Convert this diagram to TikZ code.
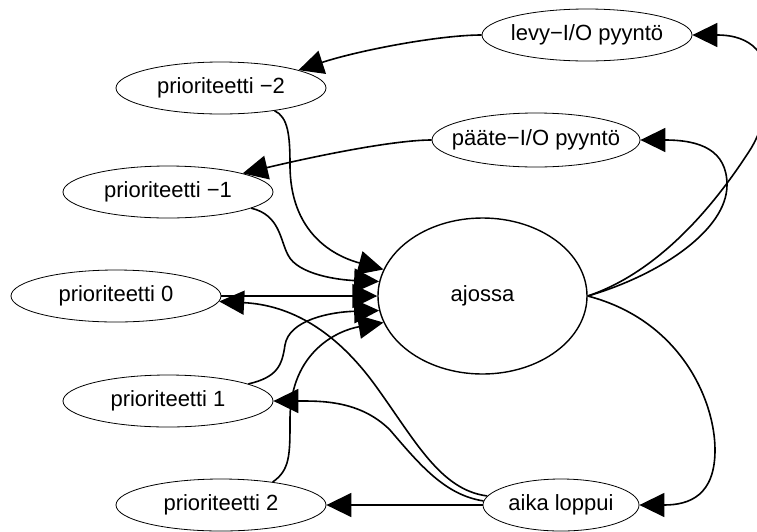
\documentclass[tikz,border=0pt]{standalone}
\usepackage{fontspec}
\setmainfont{Liberation Sans}
\usetikzlibrary{arrows.meta,shapes.geometric}

% ellipse size is given explicitly; the label is centred in a zero-width box
\newcommand{\lbl}[1]{\makebox[0pt]{#1}}

\tikzset{
  state/.style={ellipse, draw, line width=0.8pt, inner sep=0pt,
    minimum width=210pt, minimum height=52pt, font=\fontsize{22}{26}\selectfont},
  run/.style={state, line width=1.4pt, minimum width=209pt, minimum height=156pt},
  edge/.style={line width=1.6pt, -{Triangle[length=25pt,width=24pt]}},
}

\begin{document}
\begin{tikzpicture}[x=1pt, y=-1pt]
\useasboundingbox (0,0) rectangle (757,531);

% states
\node[state] (levy)   at (587,35)  {\lbl{levy−I/O pyyntö}};
\node[state, minimum width=208pt, minimum height=54pt] (paate) at (536,140) {\lbl{pääte−I/O pyyntö}};
\node[state] (pm2)    at (221,88)  {\lbl{prioriteetti −2}};
\node[state] (pm1)    at (168,192) {\lbl{prioriteetti −1}};
\node[state] (p0)     at (116,296) {\lbl{prioriteetti 0}};
\node[state] (p1)     at (168,401) {\lbl{prioriteetti 1}};
\node[state] (p2)     at (221,505) {\lbl{prioriteetti 2}};
\node[state, minimum width=156pt] (aika) at (561,505) {\lbl{aika loppui}};
\node[run] (ajossa)   at (482.5,296) {\lbl{ajossa}};

% from the running state outwards
\draw[edge] (ajossa.east) .. controls (650,275) and (705,220) .. (750,150)
            .. controls (770,119) and (790,35) .. (levy.east);
\draw[edge] (ajossa.east) .. controls (660,275) and (727,230) .. (727,185)
            .. controls (727,150) and (700,140) .. (paate.east);
\draw[edge] (ajossa.east) .. controls (680,320) and (715,400) .. (715,450)
            .. controls (715,495) and (690,505) .. (aika.east);

% I/O requests lower the priority
\draw[edge] (levy.west) .. controls (440,35) and (360,50) .. (pm2.13);
\draw[edge] (paate.west) .. controls (395,140) and (320,155) .. (pm1.14);

% priorities back to running
\draw[edge] (pm2.-23) .. controls (288,117) and (290,135) .. (290,165)
            .. controls (290,230) and (330,255) .. (ajossa.165);
\draw[edge] (pm1.-11) .. controls (280,215) and (280,240) .. (288,255)
            .. controls (298,275) and (340,280) .. (ajossa.172);
\draw[edge] (p0.east) -- (ajossa.180);
\draw[edge] (p1.12) .. controls (278,377) and (282,365) .. (285,345)
            .. controls (289,320) and (330,312) .. (ajossa.188);
\draw[edge] (p2.24) .. controls (290,470) and (290,455) .. (290,420)
            .. controls (290,350) and (340,330) .. (ajossa.195);

% time slice used up
\draw[edge] (aika.173) .. controls (440,490) and (415,440) .. (375,385)
            .. controls (335,330) and (290,305) .. (p0.-3);
\draw[edge] (aika.177) .. controls (445,495) and (420,465) .. (390,430)
            .. controls (360,400) and (320,401) .. (p1.east);
\draw[edge] (aika.west) -- (p2.east);
\end{tikzpicture}
\end{document}
